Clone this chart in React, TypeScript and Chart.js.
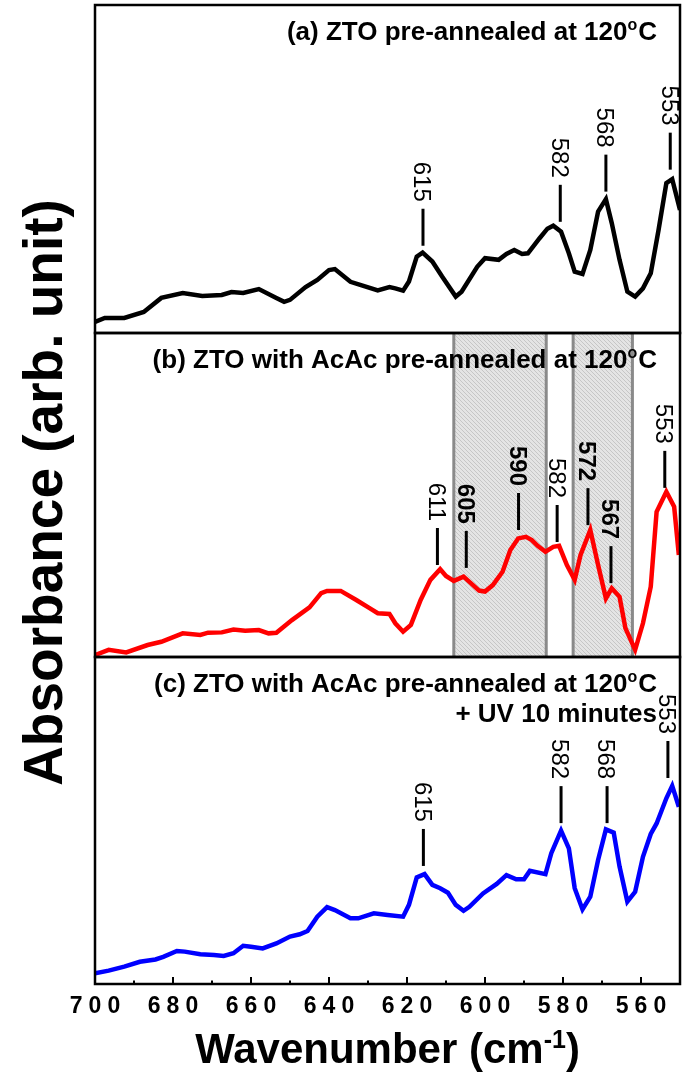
import React, { useEffect, useRef } from 'react';
import { Chart, registerables } from 'chart.js';
Chart.register(...registerables);

// ---------- data (wavenumber in cm-1, absorbance in arb. unit per panel) ----------
const WN_A = [700, 697.5, 692.5, 687.5, 683, 677.5, 672.5, 667.5, 665, 662, 658, 653.5, 651.5, 650, 646, 643, 640, 638.5, 634.5, 632, 627.5, 624.5, 623, 621, 619.5, 617.5, 616, 613.5, 611, 607.5, 606, 602, 600, 596.5, 594.5, 592.5, 590.5, 589, 586, 584, 582.5, 580.5, 578.5, 577, 575, 573, 571, 569, 567.5, 565.5, 563.5, 561.5, 559.5, 557.5, 555.5, 553.5, 552, 550];
const ABS_A = [3.4, 4.6, 4.6, 6.4, 10.7, 12.2, 11.3, 11.6, 12.5, 12.2, 13.4, 10.7, 9.5, 10.1, 14.0, 16.2, 19.2, 19.5, 15.6, 14.7, 13.0, 14.0, 13.6, 12.9, 15.7, 23.3, 24.5, 21.8, 17.2, 11.1, 12.6, 20.2, 22.8, 22.3, 24.1, 25.3, 24.1, 24.3, 28.9, 31.8, 32.7, 30.9, 24.3, 18.7, 18.0, 25.3, 37.0, 40.8, 33.5, 22.3, 12.6, 11.1, 13.6, 18.2, 31.4, 45.7, 46.9, 37.5];

const WN_B = [700, 696.5, 692, 686.5, 683, 677.5, 673, 671, 667.5, 664.5, 661.5, 658, 655.5, 653.5, 649.5, 645, 642, 640.5, 637, 633, 629.5, 627.5, 624.5, 623, 621, 619, 616.5, 614, 611.5, 610, 608, 605.5, 604, 601.5, 600, 598, 595.5, 593.5, 591.5, 589.5, 588, 586.5, 584.5, 582.5, 581, 579, 577, 575.5, 573, 571, 569, 567.5, 565.5, 564, 561.5, 559.5, 557.5, 556, 553.5, 551.5, 550.3];
const ABS_B = [0.6, 2.2, 1.4, 3.7, 4.7, 7.3, 6.8, 7.5, 7.6, 8.5, 8.1, 8.3, 7.3, 7.5, 11.4, 15.3, 19.7, 20.4, 20.4, 17.6, 15.0, 13.5, 13.3, 10.4, 7.8, 9.9, 17.6, 23.8, 27.1, 25.0, 23.5, 24.8, 23.2, 20.5, 20.2, 22.2, 26.3, 33.0, 36.6, 37.1, 36.1, 34.3, 32.5, 34.0, 34.3, 28.4, 23.8, 31.5, 39.2, 28.4, 18.1, 21.2, 18.6, 8.9, 2.2, 10.4, 21.7, 44.8, 51.0, 46.4, 31.5];

const WN_C = [700, 696.5, 692.5, 688.5, 684.5, 682.5, 679, 677, 673, 669.5, 667, 664.5, 662, 660, 657, 653.5, 650, 647.5, 645.5, 643, 640.5, 638.5, 634.5, 632.5, 628.5, 625, 621, 619.5, 617.5, 615.5, 613.5, 611.5, 609.5, 607.5, 605.5, 604, 600.5, 597, 594.5, 592, 590, 588.5, 584.5, 583, 580.5, 578.5, 577, 575, 573, 571, 569, 567, 565.5, 563.5, 561.5, 559.5, 557.5, 556, 553.5, 552, 550.3];
const ABS_C = [3.3, 4.1, 5.3, 6.8, 7.5, 8.3, 10.1, 9.9, 9.1, 8.9, 8.6, 9.4, 11.7, 11.4, 10.9, 12.4, 14.5, 15.2, 16.2, 20.6, 23.5, 22.6, 20.1, 20.1, 21.6, 21.1, 20.6, 24.2, 32.6, 33.6, 30.3, 29.3, 27.9, 24.2, 22.4, 23.6, 27.7, 30.6, 33.3, 32.0, 32.0, 34.6, 33.6, 40.0, 46.9, 41.5, 29.3, 22.8, 26.7, 37.9, 47.3, 46.3, 35.9, 25.2, 28.2, 38.9, 45.9, 49.1, 56.8, 60.6, 54.2];

// peak markers: label text, wavenumber of marker, level (panel units) of the marker's lower end, bold
const PEAK_TEXT_A = ['615', '582', '568', '553'];
const PEAK_WN_A = [615.9, 580.7, 569.0, 552.5];
const PEAK_LVL_A = [26.6, 33.9, 43.1, 49.8];
const PEAK_BOLD_A = [false, false, false, false];

const PEAK_TEXT_B = ['611', '605', '590', '582', '572', '567', '553'];
const PEAK_WN_B = [612.2, 604.8, 591.4, 581.5, 573.6, 567.7, 553.9];
const PEAK_LVL_B = [28.4, 27.5, 39.2, 35.5, 40.7, 22.8, 52.2];
const PEAK_BOLD_B = [false, true, true, false, true, true, false];

const PEAK_TEXT_C = ['615', '582', '568', '553'];
const PEAK_WN_C = [615.8, 580.5, 568.7, 553.1];
const PEAK_LVL_C = [36.1, 49.2, 49.2, 63.0];
const PEAK_BOLD_C = [false, false, false, false];

// shaded bands in panel (b), wavenumber ranges
const BAND_START_B = [608.0, 577.4];
const BAND_END_B = [584.3, 562.2];

const X_TICKS = [700, 680, 660, 640, 620, 600, 580, 560];
const X_MINOR = [690, 670, 650, 630, 610, 590, 570];

const TITLE_A = ['(a) ZTO pre-annealed at 120'];
const TITLE_B = ['(b) ZTO with AcAc pre-annealed at 120'];
const TITLE_C = ['(c) ZTO with AcAc pre-annealed at 120', '+ UV 10 minutes'];
const Y_TITLE = 'Absorbance (arb. unit)';
const X_TITLE = 'Wavenumber (cm';

const FONT = '"Liberation Sans", Arial, Helvetica, sans-serif';

export default function App() {
  const ref = useRef<HTMLCanvasElement>(null);

  useEffect(() => {
    const canvas = ref.current!;
    const ctx = canvas.getContext('2d')!;

    const pc = document.createElement('canvas');
    pc.width = 4;
    pc.height = 4;
    const p = pc.getContext('2d')!;
    p.fillStyle = '#e4e4e4';
    p.fillRect(0, 0, 4, 4);
    p.strokeStyle = '#c6c6c6';
    p.lineWidth = 1;
    p.beginPath();
    p.moveTo(0, 0);
    p.lineTo(4, 4);
    p.stroke();
    const pattern = ctx.createPattern(pc, 'repeat')!;

    const pts = (xs: number[], ys: number[]) => xs.map((x, i) => ({ x, y: ys[i] }));

    const drawPeaks = (c: CanvasRenderingContext2D, chart: any, yId: string, texts: string[], wns: number[], lvls: number[], bold: boolean[]) => {
      const xs = chart.scales.x;
      const ys = chart.scales[yId];
      texts.forEach((t, i) => {
        const x = xs.getPixelForValue(wns[i]);
        const yb = ys.getPixelForValue(lvls[i]);
        const yt = yb - 37;
        c.save();
        c.strokeStyle = '#000';
        c.lineWidth = 3;
        c.beginPath();
        c.moveTo(x, yb);
        c.lineTo(x, yt);
        c.stroke();
        c.translate(x, yt - 7);
        c.rotate(Math.PI / 2);
        c.font = `${bold[i] ? 'bold ' : ''}24px ${FONT}`;
        c.fillStyle = '#000';
        c.textAlign = 'right';
        c.textBaseline = 'alphabetic';
        c.fillText(t, 0, 8.6);
        c.restore();
      });
    };

    const drawTitle = (c: CanvasRenderingContext2D, lines: string[], right: number, top: number) => {
      c.save();
      c.fillStyle = '#000';
      c.textBaseline = 'alphabetic';
      c.textAlign = 'left';
      const big = `bold 26px ${FONT}`;
      const small = `bold 16px ${FONT}`;
      c.font = big;
      const w1 = c.measureText(lines[0]).width;
      const wC = c.measureText('C').width;
      c.font = small;
      const wo = c.measureText('o').width;
      const y0 = top + 35;
      let x = right - (w1 + wo + 1 + wC);
      c.font = big;
      c.fillText(lines[0], x, y0);
      x += w1;
      c.font = small;
      c.fillText('o', x, y0 - 10);
      x += wo + 1;
      c.font = big;
      c.fillText('C', x, y0);
      for (let i = 1; i < lines.length; i++) {
        c.textAlign = 'right';
        c.fillText(lines[i], right, y0 + 30 * i);
      }
      c.restore();
    };

    const decor = {
      id: 'decor',
      beforeDraw(chart: any) {
        (chart.ctx as any).letterSpacing = '6px';
      },
      beforeDatasetsDraw(chart: any) {
        const c: CanvasRenderingContext2D = chart.ctx;
        (c as any).letterSpacing = '0px';
        const xs = chart.scales.x;
        const yb = chart.scales.yB;
        c.save();
        BAND_START_B.forEach((a, i) => {
          const x1 = xs.getPixelForValue(a);
          const x2 = xs.getPixelForValue(BAND_END_B[i]);
          c.fillStyle = pattern;
          c.fillRect(Math.min(x1, x2), yb.top, Math.abs(x2 - x1), yb.bottom - yb.top);
          c.strokeStyle = '#8a8a8a';
          c.lineWidth = 3;
          for (const xx of [x1, x2]) {
            c.beginPath();
            c.moveTo(xx, yb.top);
            c.lineTo(xx, yb.bottom);
            c.stroke();
          }
        });
        c.restore();
      },
      afterDraw(chart: any) {
        const c: CanvasRenderingContext2D = chart.ctx;
        (c as any).letterSpacing = '0px';
        const area = chart.chartArea;
        const xs = chart.scales.x;
        c.save();
        c.strokeStyle = '#000';
        c.lineWidth = 2.5;
        for (const id of ['yA', 'yB', 'yC']) {
          const s = chart.scales[id];
          c.strokeRect(area.left, s.top, area.right - area.left, s.bottom - s.top);
        }
        c.lineWidth = 2;
        const yBot = chart.scales.yC.bottom;
        X_TICKS.forEach((v) => {
          const x = xs.getPixelForValue(v);
          c.beginPath();
          c.moveTo(x, yBot);
          c.lineTo(x, yBot - 7);
          c.stroke();
        });
        X_MINOR.forEach((v) => {
          const x = xs.getPixelForValue(v);
          c.beginPath();
          c.moveTo(x, yBot);
          c.lineTo(x, yBot - 3.5);
          c.stroke();
        });
        c.restore();

        drawPeaks(c, chart, 'yA', PEAK_TEXT_A, PEAK_WN_A, PEAK_LVL_A, PEAK_BOLD_A);
        drawPeaks(c, chart, 'yB', PEAK_TEXT_B, PEAK_WN_B, PEAK_LVL_B, PEAK_BOLD_B);
        drawPeaks(c, chart, 'yC', PEAK_TEXT_C, PEAK_WN_C, PEAK_LVL_C, PEAK_BOLD_C);

        const right = area.right - 23;
        drawTitle(c, TITLE_A, right, chart.scales.yA.top);
        drawTitle(c, TITLE_B, right, chart.scales.yB.top);
        drawTitle(c, TITLE_C, right, chart.scales.yC.top);

        c.save();
        c.fillStyle = '#000';
        c.font = `bold 55px ${FONT}`;
        c.textAlign = 'center';
        c.textBaseline = 'alphabetic';
        c.translate(area.left - 33, (area.top + area.bottom) / 2 - 2);
        c.rotate(-Math.PI / 2);
        c.fillText(Y_TITLE, 0, 0);
        c.restore();

        c.save();
        c.fillStyle = '#000';
        c.textBaseline = 'alphabetic';
        c.textAlign = 'left';
        const bigF = `bold 42px ${FONT}`;
        const supF = `bold 25px ${FONT}`;
        c.font = bigF;
        const wMain = c.measureText(X_TITLE).width;
        const wClose = c.measureText(')').width;
        c.font = supF;
        const wSup = c.measureText('-1').width;
        const total = wMain + wSup + wClose;
        let x = (area.left + area.right) / 2 - total / 2;
        const yBase = yBot + 79;
        c.font = bigF;
        c.fillText(X_TITLE, x, yBase);
        x += wMain;
        c.font = supF;
        c.fillText('-1', x, yBase - 15);
        x += wSup;
        c.font = bigF;
        c.fillText(')', x, yBase);
        c.restore();
      },
    };

    const chart = new Chart(ctx, {
      type: 'line',
      data: {
        datasets: [
          { data: pts(WN_A, ABS_A), yAxisID: 'yA', borderColor: '#000000', borderWidth: 4.5, pointRadius: 0, tension: 0, fill: false },
          { data: pts(WN_B, ABS_B), yAxisID: 'yB', borderColor: '#ff0000', borderWidth: 4.5, pointRadius: 0, tension: 0, fill: false },
          { data: pts(WN_C, ABS_C), yAxisID: 'yC', borderColor: '#0000ff', borderWidth: 4.5, pointRadius: 0, tension: 0, fill: false },
        ],
      },
      options: {
        animation: false,
        responsive: false,
        devicePixelRatio: 1,
        layout: { padding: { left: 95, right: 5, top: 5, bottom: 62 } },
        plugins: { legend: { display: false }, tooltip: { enabled: false } },
        scales: {
          x: {
            type: 'linear',
            position: 'bottom',
            min: 550,
            max: 700,
            reverse: true,
            grid: { display: false, drawTicks: false },
            border: { display: false },
            ticks: {
              color: '#000',
              font: { family: FONT, size: 23, weight: 'bold' },
              padding: 9,
              labelOffset: 3,
              maxRotation: 0,
              autoSkip: false,
            },
            afterBuildTicks: (s: any) => {
              s.ticks = X_TICKS.map((v) => ({ value: v }));
            },
            afterFit: (s: any) => {
              s.height = 30;
            },
          },
          yC: { type: 'linear', position: 'left', stack: 'panels', stackWeight: 327, min: 0, max: 100, display: false },
          yB: { type: 'linear', position: 'left', stack: 'panels', stackWeight: 324, min: 0, max: 100, display: false },
          yA: { type: 'linear', position: 'left', stack: 'panels', stackWeight: 328, min: 0, max: 100, display: false },
        },
      } as any,
      plugins: [decor],
    });

    return () => chart.destroy();
  }, []);

  return (
    <div style={{ position: 'absolute', left: 0, top: 0, width: 685, height: 1076, background: '#fff' }}>
      <canvas ref={ref} width={685} height={1076} style={{ display: 'block' }} />
    </div>
  );
}
